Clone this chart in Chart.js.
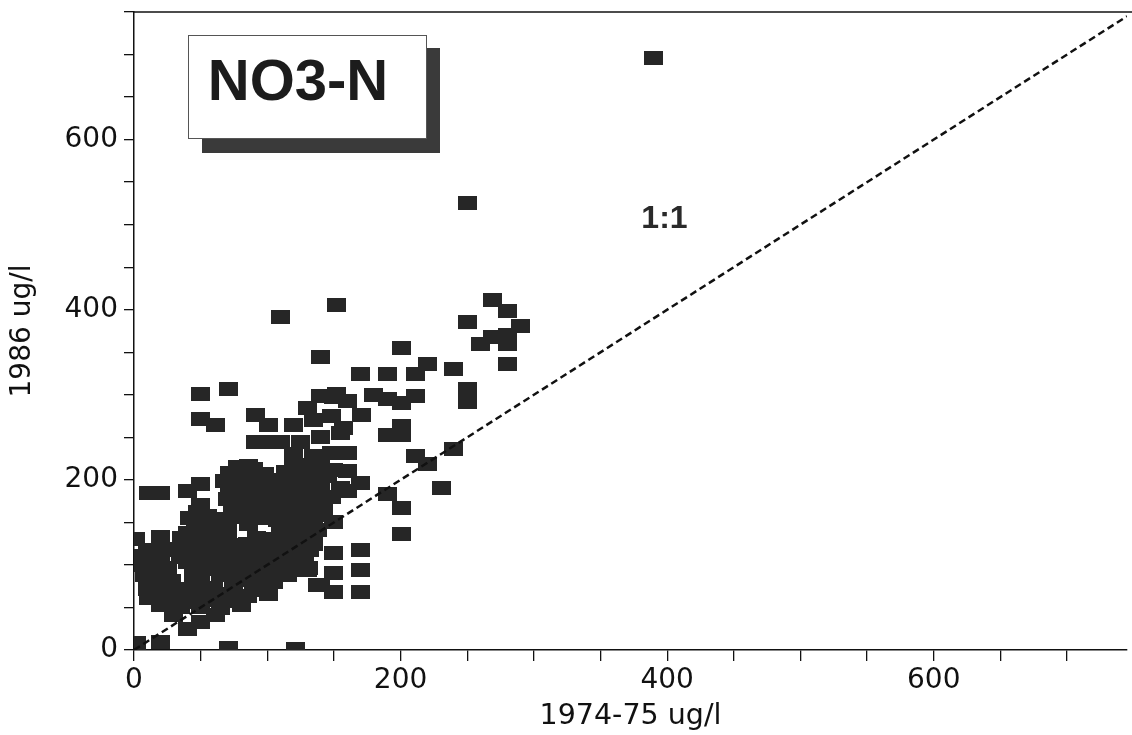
<!DOCTYPE html>
<html>
<head>
<meta charset="utf-8">
<script src="https://cdn.jsdelivr.net/npm/chart.js@4.4.0/dist/chart.umd.min.js"></script>
<style>
  html, body { margin: 0; padding: 0; background: #fff; }
  #wrap { width: 1132px; height: 735px; }
</style>
</head>
<body>
<div id="wrap"><canvas id="c" width="1132" height="735"></canvas></div>
<script>
// NO3-N, 1974-75 (x) against 1986 (y), ug/l
const highPoints = [
  [390,696],[250,525],[152,406],[110,391],[140,345],[250,385],[269,411],[280,399],
  [290,381],[269,368],[280,370],[260,360],[280,360],[280,336],[201,355],[220,336],
  [211,325],[240,330],[170,324],[190,324],[250,307],[250,291],[180,300],[190,295],
  [201,290],[211,299],[152,301],[160,293],[50,301],[71,307],[130,285],[140,299],[150,297]
];
const midPoints = [
  [171,276],[157,261],[201,263],[190,253],[201,253],[160,232],[211,228],[220,219],
  [240,236],[231,191],[190,183],[170,196],[160,187],[50,271],[61,265],[91,276],
  [101,265],[91,244],[101,244],[120,265],[120,230],[110,244],[86,216],[135,270],
  [148,275],[125,245],[140,250],[155,255],[135,228],[148,232],[140,215],[150,212],
  [160,210],[130,200],[145,205],[155,190],[135,185],[148,180],[120,215],[115,200],
  [80,206],[90,210],[72,202],[110,183],[130,210]
];
const lowPoints = [
  [201,167],[201,136],[150,114],[170,117],[150,90],[170,94],[150,68],[170,68],
  [140,76],[130,94],[130,159],[141,159],[130,170],[142,165],[150,150],[135,145],
  [120,163],[101,66],[131,96],[138,76],[81,53],[11,61],[20,53],[30,41],[40,25],
  [50,33],[61,41],[2,8],[20,9],[71,2],[121,1],[1,130],[0,100],[11,104],[11,185],
  [20,185],[40,187],[50,195],[20,133],[30,118],[40,137],[50,171],[50,143]
];
// the dark mass near the origin
const denseCluster = [
  [78,215],[90,213],[128,217],[138,214],
  [72,208],[85,208],[98,207],[114,209],[125,208],
  [68,199],[80,201],[92,198],[108,200],[120,202],[132,199],
  [76,192],[90,191],[104,193],[116,192],[128,191],[140,192],
  [72,186],[85,184],[98,187],[110,185],[122,183],[135,186],
  [70,178],[84,177],[95,179],[106,178],[118,177],[131,178],
  [78,172],[90,169],[100,171],[112,168],[125,170],[138,172],
  [48,162],[74,162],[88,161],[102,163],[114,162],[126,161],[138,163],
  [42,155],[55,157],[68,154],[82,156],[95,155],[108,153],[120,156],[132,155],
  [46,148],[58,147],[70,149],[86,148],[110,147],[118,149],[131,148],
  [52,140],[64,141],[70,139],[112,142],[125,139],[138,141],
  [36,132],[50,131],[64,133],[92,132],[104,131],[116,133],[128,132],
  [45,125],[58,126],[72,124],[85,125],[98,127],[110,124],[122,126],[135,125],
  [10,118],[22,119],[40,117],[53,118],[67,119],[80,117],[93,118],[105,119],[120,117],[132,118],
  [5,110],[15,111],[35,109],[48,110],[62,112],[75,109],[88,110],[100,111],[115,108],[128,110],
  [20,102],[40,103],[52,101],[65,102],[80,103],[92,101],[104,102],[116,103],
  [12,95],[25,96],[45,94],[58,95],[70,97],[85,94],[98,95],[110,96],[122,94],
  [8,88],[20,89],[50,87],[65,88],[75,89],[95,87],[115,88],
  [15,80],[28,81],[45,79],[78,82],[90,79],[105,80],
  [10,72],[22,73],[35,72],[48,71],[60,73],[75,72],[92,71],
  [15,65],[28,66],[40,64],[55,65],[68,66],[85,64],
  [28,58],[42,57],[58,59],[72,58],
  [35,50],[50,51],[65,49]
];
const allPoints = [...highPoints, ...midPoints, ...lowPoints, ...denseCluster];

// 1:1 reference line
const lineX = [0, 745];
const lineY = [0, 745];

const xTickLabels = [0, 200, 400, 600];
const yTickLabels = [0, 200, 400, 600];

// rectangular marker like the plotted squares
const marker = document.createElement('canvas');
marker.width = 19;
marker.height = 14;
const mctx = marker.getContext('2d');
mctx.fillStyle = '#262626';
mctx.fillRect(0, 0, 19, 14);

const FONT = 'DejaVu Sans';
const BOLD = 'Liberation Sans';

const decor = {
  id: 'decor',
  afterDraw(chart) {
    const { ctx, chartArea: a, scales } = chart;
    ctx.save();
    // top frame line
    ctx.strokeStyle = '#111';
    ctx.lineWidth = 1.5;
    ctx.beginPath();
    ctx.moveTo(a.left, a.top);
    ctx.lineTo(chart.width, a.top);
    ctx.stroke();

    // title box with drop shadow
    ctx.fillStyle = '#3a3a3a';
    ctx.fillRect(202, 48, 238, 105);
    ctx.fillStyle = '#fff';
    ctx.fillRect(188, 35, 239, 104);
    ctx.strokeStyle = '#555';
    ctx.lineWidth = 1;
    ctx.strokeRect(188.5, 35.5, 238, 103);
    ctx.fillStyle = '#1c1c1c';
    ctx.font = 'bold 58px "' + BOLD + '"';
    ctx.textAlign = 'center';
    ctx.textBaseline = 'middle';
    ctx.fillText('NO3-N', 298, 84);

    // 1:1 label
    ctx.fillStyle = '#2a2a2a';
    ctx.font = 'bold 32px "' + BOLD + '"';
    ctx.fillText('1:1', scales.x.getPixelForValue(398), scales.y.getPixelForValue(506));
    ctx.restore();
  }
};

new Chart(document.getElementById('c'), {
  type: 'scatter',
  data: {
    datasets: [
      {
        type: 'line',
        label: '1:1',
        data: lineX.map((v, i) => ({ x: v, y: lineY[i] })),
        borderColor: '#111',
        borderWidth: 2.5,
        borderDash: [7, 4],
        pointRadius: 0,
        fill: false,
        order: 0
      },
      {
        label: 'NO3-N',
        data: allPoints.map(p => ({ x: p[0], y: p[1] })),
        pointStyle: marker,
        backgroundColor: '#262626',
        borderColor: '#262626',
        order: 1
      }
    ]
  },
  options: {
    responsive: false,
    devicePixelRatio: 1,
    animation: false,
    layout: { padding: { top: 12, right: 4, left: 0, bottom: 0 } },
    plugins: { legend: { display: false }, tooltip: { enabled: false } },
    scales: {
      x: {
        type: 'linear',
        min: 0,
        max: 745,
        afterFit(s) { s.height = 85; s.paddingLeft = 0; s.paddingRight = 0; },
        ticks: {
          stepSize: 50,
          includeBounds: false,
          autoSkip: false,
          maxRotation: 0,
          padding: 3,
          color: '#111',
          font: { family: FONT, size: 28 },
          callback: v => xTickLabels.includes(v) ? v : ''
        },
        grid: { drawOnChartArea: false, drawTicks: true, tickLength: 11, color: '#111', lineWidth: 1.3 },
        border: { display: true, color: '#111', width: 1.5 },
        title: {
          display: true,
          text: '1974-75 ug/l',
          color: '#111',
          font: { family: FONT, size: 28.5 },
          padding: { top: 0, bottom: 1 }
        }
      },
      y: {
        type: 'linear',
        min: 0,
        max: 750,
        afterFit(s) { s.width = 134; s.paddingTop = 0; s.paddingBottom = 0; },
        ticks: {
          stepSize: 50,
          includeBounds: false,
          autoSkip: false,
          padding: 6,
          color: '#111',
          font: { family: FONT, size: 28 },
          callback: v => yTickLabels.includes(v) ? v : ''
        },
        grid: { drawOnChartArea: false, drawTicks: true, tickLength: 10, color: '#111', lineWidth: 1.3 },
        border: { display: true, color: '#111', width: 1.5 },
        title: {
          display: true,
          text: '1986 ug/l',
          color: '#111',
          font: { family: FONT, size: 28 },
          padding: { top: 6, bottom: 0 }
        }
      }
    }
  },
  plugins: [decor]
});
</script>
</body>
</html>
